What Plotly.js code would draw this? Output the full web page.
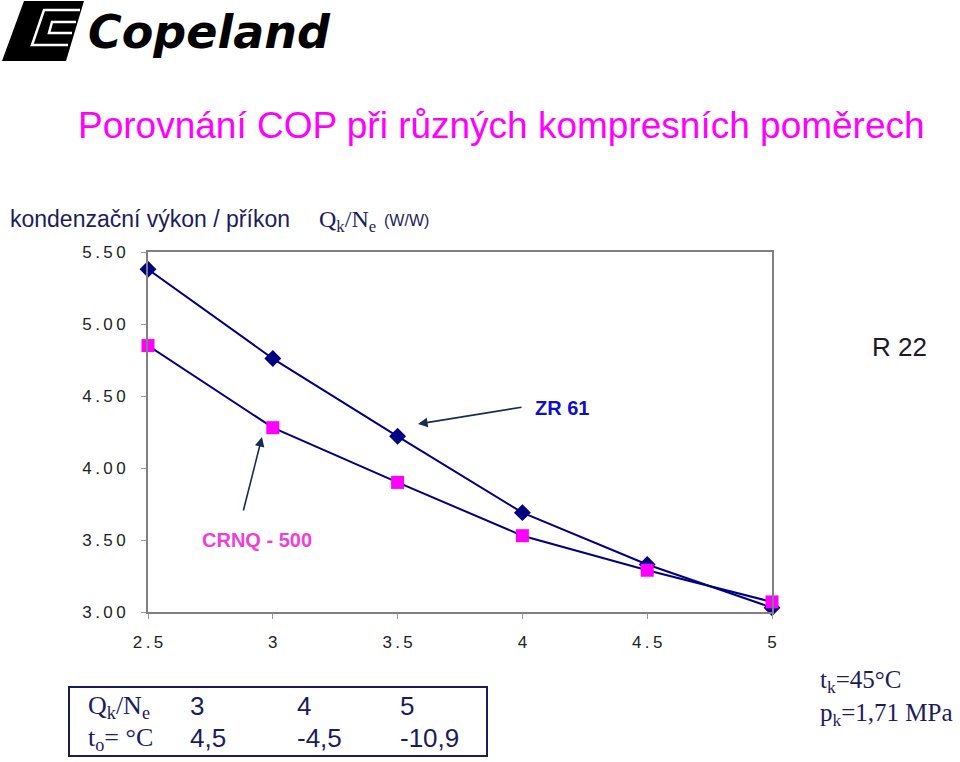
<!DOCTYPE html>
<html>
<head>
<meta charset="utf-8">
<script src="https://cdn.plot.ly/plotly-3.0.1.min.js"></script>
<style>body{margin:0;background:#fff}#chart{width:960px;height:762px}</style>
</head>
<body>
<div id="chart"></div>
<script>
// Data
const ratios = [2.5, 3, 3.5, 4, 4.5, 5];
const zr61 = [5.38, 4.76, 4.22, 3.69, 3.33, 3.03];
const crnq = [4.85, 4.28, 3.90, 3.53, 3.29, 3.07];
const yTickVals = [3, 3.5, 4, 4.5, 5, 5.5];
const yTickText = ['3.00', '3.50', '4.00', '4.50', '5.00', '5.50'];
const xTickVals = [2.5, 3, 3.5, 4, 4.5, 5];
const xTickText = ['2.5', '3', '3.5', '4', '4.5', '5'];
const tableRatios = ['3', '4', '5'];
const tableTemps = ['4,5', '-4,5', '-10,9'];

const sp = s => s.split('').join('\u2009');

// pixel -> paper helpers (plot area 148..772 x, 252..612 y)
const L = 148, R = 772, T = 252, B = 612;
const px = x => (x - L) / (R - L);
const py = y => (B - y) / (B - T);

const navy = '#000080';
const textNavy = '#1c1c5a';
const magenta = '#ff00ff';
const SANS = 'Liberation Sans, Arial, sans-serif';
const SERIF = 'Liberation Serif, Times New Roman, serif';

const traces = [
  {x: ratios, y: zr61, type: 'scatter', mode: 'lines+markers', name: 'ZR 61',
   line: {color: navy, width: 2},
   marker: {symbol: 'diamond', size: 13, color: navy}, cliponaxis: false},
  {x: ratios, y: crnq, type: 'scatter', mode: 'lines+markers', name: 'CRNQ - 500',
   line: {color: navy, width: 2},
   marker: {symbol: 'square', size: 13, color: magenta}, cliponaxis: false}
];

const ann = [];
function txt(x, y, text, opt) {
  ann.push(Object.assign({xref: 'paper', yref: 'paper', x: px(x), y: py(y), text: text,
    showarrow: false, xanchor: 'left', yanchor: 'middle',
    font: {family: SANS, size: 20, color: textNavy}}, opt || {}));
}
// Logo text
txt(86, 32, '<b><i>Copeland</i></b>', {font: {family: 'DejaVu Sans, sans-serif', size: 46, color: '#000'}});
// Title
txt(501, 126, 'Porovnání COP při různých kompresních poměrech', {xanchor: 'center',
  font: {family: SANS, size: 37, color: magenta}});
// Axis caption
txt(8, 219, 'kondenzační výkon / příkon', {font: {family: SANS, size: 23, color: textNavy}});
txt(317, 221, 'Q<sub>k</sub>/N<sub>e</sub>', {font: {family: SERIF, size: 24, color: textNavy}});
txt(382, 220, '(W/W)', {font: {family: SANS, size: 16, color: textNavy}});
// Labels
txt(870, 347, 'R 22', {font: {family: SANS, size: 26, color: '#1a1a2a'}});
txt(533, 408, '<b>ZR 61</b>', {font: {family: SANS, size: 20, color: '#1010c0'}});
txt(200, 540, '<b>CRNQ - 500</b>', {font: {family: SANS, size: 20, color: '#ee40d8'}});
// Arrows
ann.push({xref: 'paper', yref: 'paper', x: px(418), y: py(424), ax: 105, ay: -17, text: '',
  showarrow: true, arrowhead: 2, arrowsize: 1.2, arrowwidth: 1.6, arrowcolor: '#1c2a50', standoff: 0});
ann.push({xref: 'paper', yref: 'paper', x: px(262), y: py(437), ax: -19, ay: 75, text: '',
  showarrow: true, arrowhead: 2, arrowsize: 1.2, arrowwidth: 1.6, arrowcolor: '#1c2a50', standoff: 0});
// Table
const serif = {family: SERIF, size: 26, color: textNavy};
const sans = {family: SANS, size: 26, color: textNavy};
txt(86, 707, 'Q<sub>k</sub>/N<sub>e</sub>', {font: serif});
txt(86, 739, 't<sub>o</sub>= °C', {font: serif});
const colX = [188, 295, 398];
tableRatios.forEach((t, i) => txt(colX[i], 706, t, {font: sans}));
tableTemps.forEach((t, i) => txt(colX[i], 738, t, {font: sans}));
// Conditions
const serifC = {family: SERIF, size: 25, color: textNavy};
txt(818, 681, 't<sub>k</sub>=45°C', {font: serifC});
txt(818, 714, 'p<sub>k</sub>=1,71 MPa', {font: serifC});

const shapes = [
  // table box
  {type: 'rect', xref: 'paper', yref: 'paper', x0: px(69), x1: px(487), y0: py(687), y1: py(756),
   line: {color: '#1c1c5a', width: 2}, fillcolor: 'rgba(0,0,0,0)'},
  // logo emblem
  {type: 'path', xref: 'paper', yref: 'paper',
   path: `M ${px(24)},${py(1)} L ${px(84)},${py(1)} L ${px(66)},${py(61)} L ${px(2)},${py(61)} Z`,
   fillcolor: '#000', line: {color: '#000', width: 0}},
  {type: 'path', xref: 'paper', yref: 'paper',
   path: `M ${px(80)},${py(10)} L ${px(44)},${py(10)} L ${px(32)},${py(45)} L ${px(68)},${py(45)}`,
   fillcolor: 'rgba(0,0,0,0)', line: {color: '#fff', width: 2.5}},
  {type: 'path', xref: 'paper', yref: 'paper',
   path: `M ${px(76)},${py(22)} L ${px(52)},${py(22)} L ${px(49)},${py(33)} L ${px(72)},${py(33)}`,
   fillcolor: 'rgba(0,0,0,0)', line: {color: '#fff', width: 2.5}}
];

const layout = {
  width: 960, height: 762,
  margin: {l: L, r: 960 - R, t: T, b: 762 - B, pad: 0},
  paper_bgcolor: '#fff', plot_bgcolor: '#fff',
  showlegend: false,
  xaxis: {range: [2.5, 5], tickvals: xTickVals, ticktext: xTickText.map(sp),
    showgrid: false, zeroline: false, showline: true, mirror: true, linecolor: '#808080', linewidth: 2,
    ticks: 'outside', ticklen: 5, tickcolor: '#999', ticklabelstandoff: 9,
    tickfont: {family: SANS, size: 17, color: '#222'}},
  yaxis: {range: [3, 5.5], tickvals: yTickVals, ticktext: yTickText.map(sp),
    showgrid: false, zeroline: false, showline: true, mirror: true, linecolor: '#808080', linewidth: 2,
    ticks: 'outside', ticklen: 5, tickcolor: '#999', ticklabelstandoff: 12,
    tickfont: {family: SANS, size: 17, color: '#222'}},
  annotations: ann,
  shapes: shapes
};

Plotly.newPlot('chart', traces, layout, {displayModeBar: false, staticPlot: true});
</script>
</body>
</html>
